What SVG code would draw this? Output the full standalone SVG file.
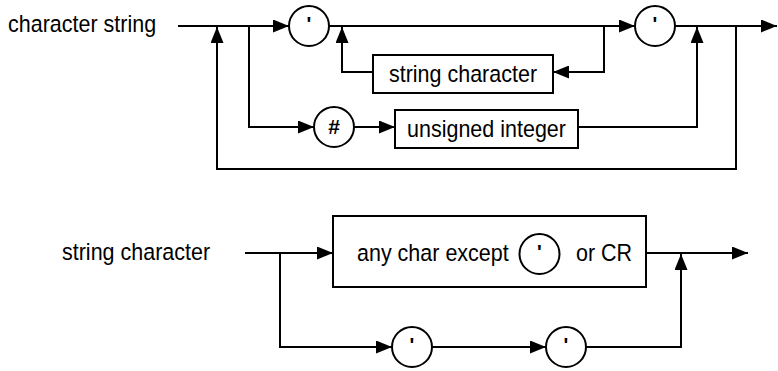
<svg xmlns="http://www.w3.org/2000/svg" width="778" height="371" viewBox="0 0 778 371">
<style>
.t{font-family:"Liberation Sans",Arial,Helvetica,sans-serif;font-size:21.5px;fill:#000}
.q{font-family:"Liberation Sans",Arial,sans-serif;font-size:20px;font-weight:bold;fill:#000;text-anchor:middle}
.h{font-family:"Liberation Sans",Arial,sans-serif;font-size:21px;font-weight:bold;fill:#000;text-anchor:middle}
.n{fill:#fff;stroke:#000;stroke-width:2}
.c{fill:none;stroke:#000;stroke-width:2}
</style>
<defs>
<marker id="a" markerUnits="userSpaceOnUse" markerWidth="17" markerHeight="13" refX="16" refY="6.5" orient="auto">
<path d="M0,0 L16,6.5 L0,13 z" fill="#000"/>
</marker>
</defs>
<text class="t" transform="translate(8,32) scale(1,1.12)">character string</text>
<text class="t" transform="translate(62,260) scale(1,1.12)">string character</text>
<g id="connectors">
<path class="c" d="M178,26 H289" marker-end="url(#a)"/>
<path class="c" d="M329,26 H635" marker-end="url(#a)"/>
<path class="c" d="M675,26 H777" marker-end="url(#a)"/>
<path class="c" d="M736,26 V169 H217 V27" marker-end="url(#a)"/>
<path class="c" d="M249,26 V127 H314" marker-end="url(#a)"/>
<path class="c" d="M354,127 H395" marker-end="url(#a)"/>
<path class="c" d="M578,127 H697 V27" marker-end="url(#a)"/>
<path class="c" d="M604,26 V72 H553" marker-end="url(#a)"/>
<path class="c" d="M373,72 H342 V27" marker-end="url(#a)"/>
<path class="c" d="M245,253 H333" marker-end="url(#a)"/>
<path class="c" d="M646,253 H748" marker-end="url(#a)"/>
<path class="c" d="M280,253 V347 H392" marker-end="url(#a)"/>
<path class="c" d="M432,347 H546" marker-end="url(#a)"/>
<path class="c" d="M586,347 H681 V254" marker-end="url(#a)"/>
</g>
<g id="quote1"><circle class="n" cx="309" cy="26" r="20"/><text class="q" x="309" y="31">'</text></g>
<g id="quote2"><circle class="n" cx="655" cy="26" r="20"/><text class="q" x="655" y="31">'</text></g>
<g id="hash"><circle class="n" cx="334" cy="127" r="20"/><text class="h" x="334" y="134">#</text></g>
<g id="stringchar"><rect class="n" x="373" y="55" width="180" height="38"/><text class="t" text-anchor="middle" transform="translate(463,82) scale(1,1.12)">string character</text></g>
<g id="unsigned"><rect class="n" x="395" y="110" width="183" height="38"/><text class="t" text-anchor="middle" transform="translate(486.5,137) scale(1,1.12)">unsigned integer</text></g>
<g id="anychar"><rect class="n" x="333" y="216" width="313" height="71"/><text class="t" transform="translate(357,261) scale(1,1.12)">any char except</text><circle class="n" cx="539.5" cy="254" r="20"/><text class="q" x="539.5" y="259">'</text><text class="t" transform="translate(576,261) scale(1,1.12)">or CR</text></g>
<g id="quote3"><circle class="n" cx="412" cy="347" r="20"/><text class="q" x="412" y="352">'</text></g>
<g id="quote4"><circle class="n" cx="566" cy="347" r="20"/><text class="q" x="566" y="352">'</text></g>
</svg>
